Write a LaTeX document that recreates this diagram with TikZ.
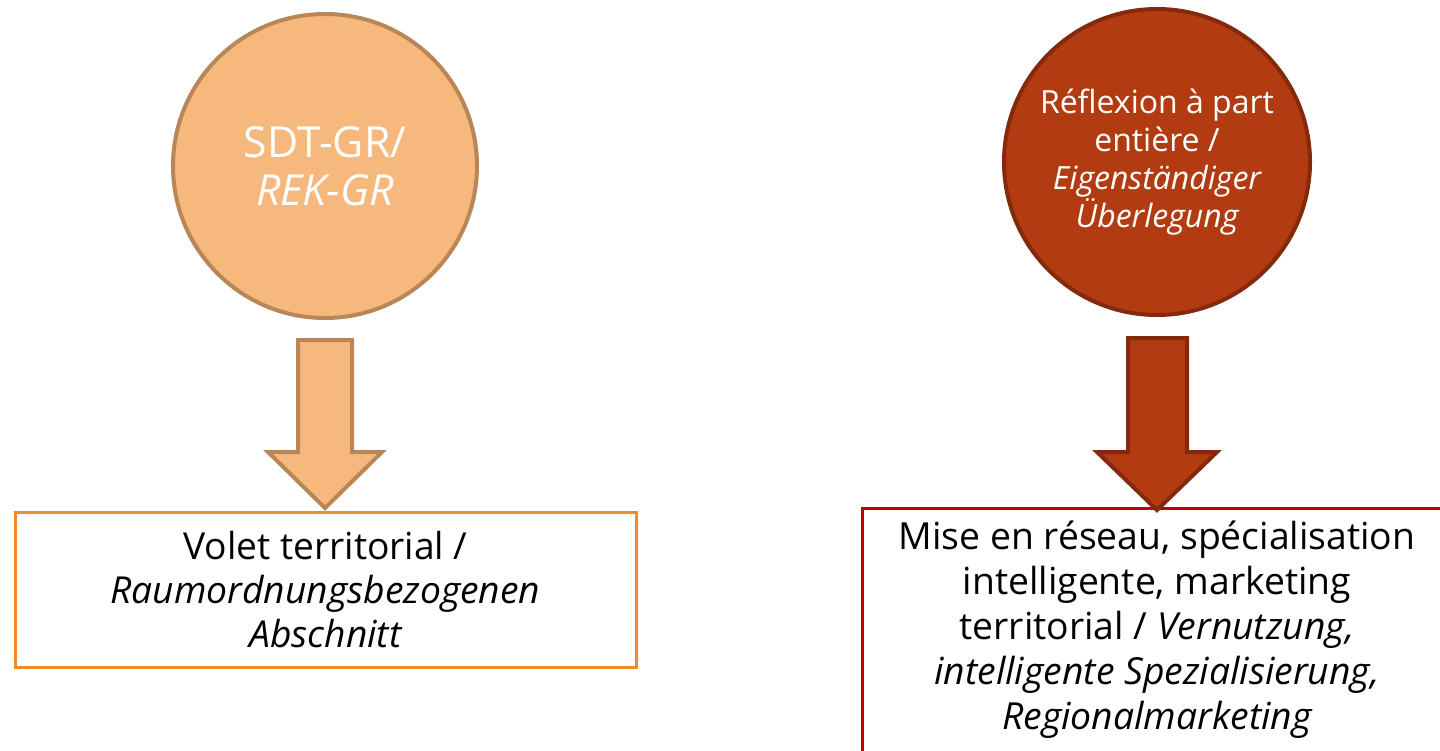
\documentclass[tikz,border=0pt]{standalone}
\usepackage{fontspec}
\setmainfont{Open Sans}
\definecolor{lfill}{HTML}{F7B87E}
\definecolor{ldraw}{HTML}{B98757}
\definecolor{rfill}{HTML}{B33B12}
\definecolor{rdraw}{HTML}{832A0C}
\definecolor{lbox}{HTML}{F28A2A}
\definecolor{rbox}{HTML}{C00000}
\begin{document}
\begin{tikzpicture}[x=1pt,y=-1pt,
  circ/.style={circle,line width=4pt,inner sep=0pt,minimum size=304pt,text=white,align=center},
  outbox/.style={rectangle,line width=3pt,fill=white,inner sep=0pt,align=center,text=black},
  blockarrow/.style={line width=4pt,line join=miter}]
\useasboundingbox[fill=white] (0,0) rectangle (1440,750);
% circles
\node[circ,fill=lfill,draw=ldraw,font=\fontsize{42.8}{48}\selectfont] (c1) at (325,166) {SDT-GR/\\\itshape REK-GR};
\node[circ,fill=rfill,draw=rdraw,minimum size=306pt,font=\fontsize{32}{38}\selectfont] (c2) at (1157,162) {Réflexion à part\\entière /\\\itshape Eigenständiger\\\itshape Überlegung};
% boxes
\node[outbox,draw=lbox,minimum width=621pt,minimum height=155pt,font=\fontsize{37.2}{44}\selectfont] (b1) at (325.5,589.5) {Volet territorial /\\\itshape Raumordnungsbezogenen\\\itshape Abschnitt};
\node[outbox,draw=rbox,minimum width=590pt,minimum height=244pt,font=\fontsize{37.3}{45}\selectfont] (b2) at (1157,630) {Mise en réseau, spécialisation\\intelligente, marketing\\territorial / \textit{Vernutzung,}\\\itshape intelligente Spezialisierung,\\\itshape Regionalmarketing};
% block arrows
\draw[blockarrow,fill=lfill,draw=ldraw] (298,340) -- (352,340) -- (352,452) -- (382,452) -- (325,508) -- (268,452) -- (298,452) -- cycle;
\draw[blockarrow,fill=rfill,draw=rdraw] (1128,338) -- (1187,338) -- (1187,452) -- (1217,452) -- (1157,510) -- (1097,452) -- (1128,452) -- cycle;
\end{tikzpicture}
\end{document}
